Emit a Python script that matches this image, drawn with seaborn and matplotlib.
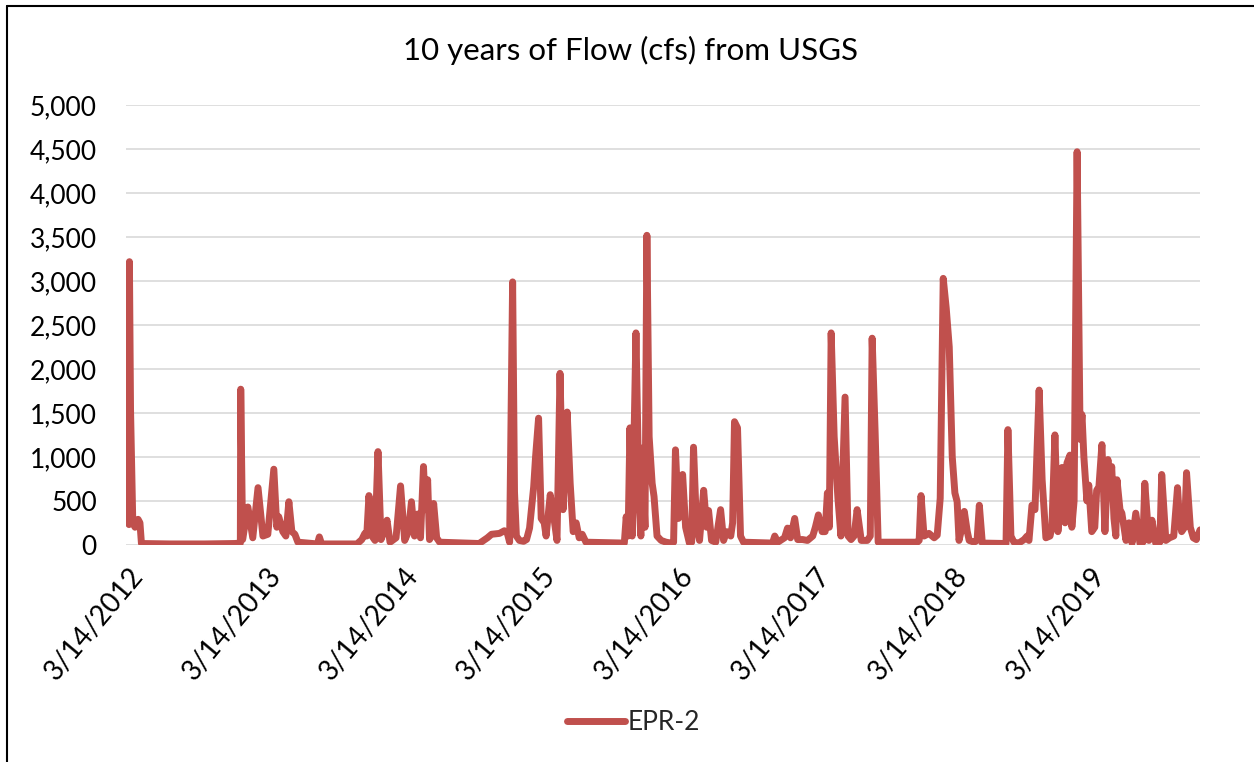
import matplotlib
matplotlib.use('Agg')
import matplotlib.pyplot as plt
from matplotlib.lines import Line2D
from matplotlib.ticker import StrMethodFormatter
import seaborn as sns
import pandas as pd

# daily flow (peaks and low points only)
dates = [
    # 2012
    '2012-03-14', '2012-03-15', '2012-03-18', '2012-03-24', '2012-03-30', '2012-04-07',
    '2012-04-12', '2012-04-16', '2012-07-01', '2012-10-01', '2012-12-20',
    # 2013
    '2013-01-04', '2013-01-05', '2013-01-10', '2013-01-24', '2013-02-06', '2013-02-20',
    '2013-03-05', '2013-03-18', '2013-04-03', '2013-04-11', '2013-04-16', '2013-04-27',
    '2013-05-05', '2013-05-13', '2013-05-21', '2013-05-29', '2013-06-06', '2013-07-28',
    '2013-08-02', '2013-08-08', '2013-11-10', '2013-11-23', '2013-12-01', '2013-12-06',
    '2013-12-12', '2013-12-20', '2013-12-28',
    # 2014
    '2014-01-05', '2014-01-13', '2014-01-21', '2014-01-29', '2014-02-06', '2014-02-22',
    '2014-03-06', '2014-03-17', '2014-03-27', '2014-04-04', '2014-04-12', '2014-04-20',
    '2014-04-28', '2014-05-06', '2014-05-11', '2014-05-17', '2014-05-22', '2014-05-27',
    '2014-06-02', '2014-06-10', '2014-06-18', '2014-10-01', '2014-10-23', '2014-11-03',
    '2014-11-24', '2014-12-07', '2014-12-15', '2014-12-21', '2014-12-29',
    # 2015
    '2015-01-03', '2015-01-08', '2015-01-16', '2015-01-27', '2015-02-04', '2015-02-12',
    '2015-02-23', '2015-02-28', '2015-03-08', '2015-03-15', '2015-03-23', '2015-03-28',
    '2015-04-08', '2015-04-18', '2015-04-26', '2015-05-04', '2015-05-12', '2015-05-23',
    '2015-05-31', '2015-06-08', '2015-06-16', '2015-06-24', '2015-07-02', '2015-07-12',
    '2015-10-22', '2015-10-27', '2015-11-01', '2015-11-06', '2015-11-12', '2015-11-22',
    '2015-11-30', '2015-12-05', '2015-12-08', '2015-12-16', '2015-12-21', '2015-12-27',
    # 2016
    '2016-01-04', '2016-01-09', '2016-01-17', '2016-01-28', '2016-02-10', '2016-02-23',
    '2016-03-01', '2016-03-06', '2016-03-14', '2016-03-25', '2016-04-02', '2016-04-12',
    '2016-04-18', '2016-04-23', '2016-05-01', '2016-05-09', '2016-05-20', '2016-05-28',
    '2016-06-02', '2016-06-10', '2016-06-21', '2016-07-04', '2016-07-12', '2016-07-20',
    '2016-07-31', '2016-08-05', '2016-08-10', '2016-08-18', '2016-08-26', '2016-09-03',
    '2016-11-19', '2016-11-25', '2016-12-03', '2016-12-21', '2016-12-29',
    # 2017
    '2017-01-06', '2017-01-17', '2017-01-25', '2017-02-07', '2017-02-20', '2017-03-06',
    '2017-03-13', '2017-03-21', '2017-03-31', '2017-04-08', '2017-04-14', '2017-04-19',
    '2017-04-24', '2017-05-02', '2017-05-12', '2017-05-20', '2017-05-31', '2017-06-08',
    '2017-06-16', '2017-06-24', '2017-07-02', '2017-07-13', '2017-07-29', '2017-08-06',
    '2017-08-11', '2017-08-19', '2017-08-27', '2017-12-09', '2017-12-14', '2017-12-19',
    '2017-12-27',
    # 2018
    '2018-01-09', '2018-01-23', '2018-01-31', '2018-02-08', '2018-02-16', '2018-02-24',
    '2018-03-04', '2018-03-12', '2018-03-19', '2018-03-25', '2018-03-30', '2018-04-07',
    '2018-04-13', '2018-04-21', '2018-04-26', '2018-05-09', '2018-05-17', '2018-05-23',
    '2018-05-31', '2018-08-02', '2018-08-07', '2018-08-15', '2018-08-23', '2018-09-05',
    '2018-09-19', '2018-09-27', '2018-10-02', '2018-10-10', '2018-10-18', '2018-10-29',
    '2018-11-06', '2018-11-16', '2018-11-27', '2018-12-02', '2018-12-10', '2018-12-18',
    '2018-12-23', '2018-12-29',
    # 2019
    '2019-01-06', '2019-01-11', '2019-01-19', '2019-01-24', '2019-01-30', '2019-02-07',
    '2019-02-15', '2019-02-20', '2019-02-25', '2019-03-05', '2019-03-10', '2019-03-18',
    '2019-03-26', '2019-03-31', '2019-04-06', '2019-04-14', '2019-04-22', '2019-04-30',
    '2019-05-05', '2019-05-10', '2019-05-16', '2019-05-21', '2019-05-24', '2019-06-01',
    '2019-06-06', '2019-06-17', '2019-06-25', '2019-07-03', '2019-07-13', '2019-07-24',
    '2019-08-01', '2019-08-06', '2019-08-17', '2019-08-25', '2019-09-04', '2019-09-15',
    '2019-09-20', '2019-10-01', '2019-10-11', '2019-10-22', '2019-11-01', '2019-11-06',
    '2019-11-12', '2019-11-20', '2019-11-25', '2019-12-05', '2019-12-13', '2019-12-21',
    '2019-12-31',
]
flows = [
    # 2012
    230, 3220, 1530, 250, 200, 290,
    250, 15, 10, 10, 15,
    # 2013
    20, 1770, 60, 430, 80, 650,
    100, 120, 860, 200, 320, 150,
    100, 490, 150, 120, 30, 10,
    90, 10, 10, 60, 130, 100,
    560, 100, 50,
    # 2014
    1060, 60, 150, 280, 30, 80,
    670, 50, 150, 490, 100, 350,
    80, 890, 400, 740, 60, 100,
    470, 80, 30, 15, 80, 120,
    130, 160, 130, 30, 2990,
    # 2015
    600, 100, 50, 40, 60, 190,
    660, 1000, 1440, 300, 250, 100,
    570, 300, 50, 1950, 400, 1510,
    700, 150, 250, 80, 120, 30,
    20, 320, 100, 1330, 100, 2410,
    500, 100, 1100, 200, 3520, 1230,
    # 2016
    700, 550, 100, 50, 30, 20,
    30, 1080, 300, 800, 200, 20,
    30, 1110, 200, 50, 620, 200,
    390, 50, 30, 400, 50, 150,
    100, 250, 1400, 1330, 100, 30,
    20, 100, 30, 80, 190,
    # 2017
    80, 300, 60, 60, 50, 100,
    200, 340, 150, 150, 590, 200,
    2410, 1230, 530, 100, 1680, 100,
    60, 100, 400, 50, 50, 100,
    2350, 1270, 30, 30, 50, 560,
    100,
    # 2018
    130, 80, 110, 530, 3030, 2690,
    2250, 1000, 590, 490, 50, 200,
    380, 150, 50, 30, 50, 450,
    20, 15, 1310, 100, 30, 20,
    60, 100, 50, 450, 400, 1760,
    740, 80, 100, 200, 1250, 150,
    400, 880,
    # 2019
    250, 930, 1020, 200, 500, 4470,
    1200, 1480, 1000, 500, 680, 150,
    200, 620, 660, 1140, 150, 970,
    600, 890, 300, 100, 740, 400,
    360, 50, 250, 20, 360, 20,
    30, 700, 50, 280, 20, 30,
    800, 50, 80, 100, 650, 300,
    150, 200, 820, 200, 80, 60,
    170,
]

tick_dates = ['2012-03-14', '2013-03-14', '2014-03-14', '2015-03-14',
              '2016-03-14', '2017-03-14', '2018-03-14', '2019-03-14']
tick_labels = ['3/14/2012', '3/14/2013', '3/14/2014', '3/14/2015',
               '3/14/2016', '3/14/2017', '3/14/2018', '3/14/2019']
y_ticks = [0, 500, 1000, 1500, 2000, 2500, 3000, 3500, 4000, 4500, 5000]
series_name = 'EPR-2'

df = pd.DataFrame({'date': pd.to_datetime(dates), 'flow': flows})

sns.set_theme(style='white')
plt.rcParams['font.family'] = ['Lato', 'DejaVu Sans']

fig = plt.figure(figsize=(12.54, 7.62), dpi=100)
ax = fig.add_axes([0.1005, 0.285, 0.8565, 0.577])

sns.lineplot(data=df, x='date', y='flow', ax=ax, color='#C0504D', linewidth=5,
             label=series_name, solid_capstyle='round', solid_joinstyle='round')

ax.set_ylim(0, 5000)
ax.set_yticks(y_ticks)
ax.yaxis.set_major_formatter(StrMethodFormatter('{x:,.0f}'))
ax.set_xlim(pd.Timestamp('2012-03-06'), pd.Timestamp('2019-12-31'))
ax.set_xticks(pd.to_datetime(tick_dates))
ax.set_xticklabels(tick_labels, rotation=50, ha='right', rotation_mode='anchor')
ax.tick_params(axis='y', labelsize=19, length=0, colors='black', pad=21)
ax.tick_params(axis='x', labelsize=20, length=0, colors='black', pad=13)
ax.grid(axis='y', color='#D9D9D9', linewidth=1.2)
ax.set_axisbelow(True)
for s in ax.spines.values():
    s.set_visible(False)
ax.set_xlabel('')
ax.set_ylabel('')

fig.text(0.503, 0.934, '10 years of Flow (cfs) from USGS', ha='center', va='center',
         fontsize=22.5, color='black')

ax.legend_.remove()
handles = [Line2D([0], [0], color='#C0504D', linewidth=5, solid_capstyle='round')]
fig.legend(handles, [series_name], loc='center', bbox_to_anchor=(0.505, 0.052),
           frameon=False, fontsize=19, handlelength=2.2, handletextpad=0.1)

# frame lines of the original chart box
fig.add_artist(Line2D([0.0056, 0.0056], [0, 0.992], transform=fig.transFigure,
                      color='black', linewidth=1.5))
fig.add_artist(Line2D([0.0056, 1], [0.992, 0.992], transform=fig.transFigure,
                      color='black', linewidth=1.5))

fig.savefig('out.png', dpi=100, facecolor='white')
